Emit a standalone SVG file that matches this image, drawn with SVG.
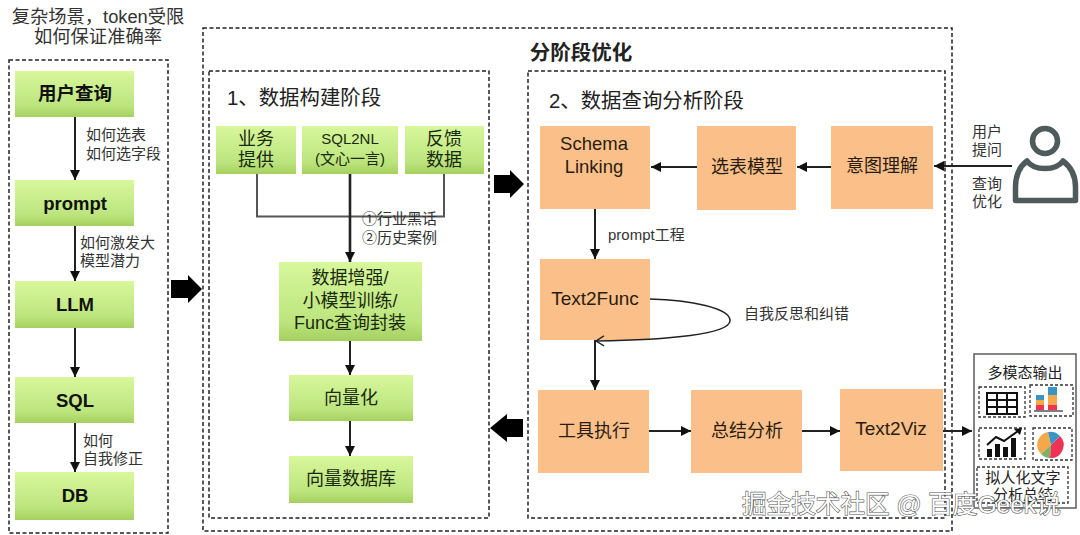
<svg xmlns="http://www.w3.org/2000/svg" width="1080" height="535" viewBox="0 0 1080 535">
<style>
text{font-family:"Liberation Sans","Noto Sans CJK SC",sans-serif;fill:#222;text-anchor:middle}
.dash{fill:none;stroke:#222;stroke-width:1.5;stroke-dasharray:4 2.5}
.green{fill:url(#g)}
.orange{fill:#fbc08a}
.l{fill:none;stroke:#222;stroke-width:2}
.g2{fill:none;stroke:#555;stroke-width:2}
.n{font-size:18px;fill:#1a2a10}
.b{font-size:18.5px;font-weight:bold;fill:#111}
.o{font-size:18px;fill:#2a1c10}
.s{font-size:15px;fill:#333}
.sl{font-size:15px;fill:#333;text-anchor:start}
.t{font-size:18.3px;fill:#333}
.h{font-size:20.4px;fill:#222;text-anchor:start}
.thick{fill:#000}
.wm{font-size:24.6px;fill:#fff;stroke:#555;stroke-width:1.2;paint-order:stroke;text-anchor:start}
</style>
<defs>
<linearGradient id="g" x1="0" y1="0" x2="0" y2="1"><stop offset="0" stop-color="#d8f79c"/><stop offset=".75" stop-color="#bce57e"/><stop offset="1" stop-color="#a5d05f"/></linearGradient>
<marker id="a" markerUnits="userSpaceOnUse" markerWidth="11" markerHeight="10" refX="10" refY="5" orient="auto"><path d="M0 0L10 5L0 10Z" fill="#111"/></marker>
<marker id="o" markerUnits="userSpaceOnUse" markerWidth="10" markerHeight="12" refX="9" refY="6" orient="auto"><path d="M1 1L9 6L1 11" fill="none" stroke="#222" stroke-width="1.3"/></marker>
</defs>

<g id="frames">
<rect class="dash" x="9" y="60" width="159" height="473"/>
<rect class="dash" x="203" y="28" width="749" height="503"/>
<rect class="dash" x="209" y="71" width="280" height="447"/>
<rect class="dash" x="528" y="71" width="417" height="447"/>
</g>
<g id="titles">
<text x="98" y="23" class="t">复杂场景，token受限</text>
<text x="98" y="43" class="t">如何保证准确率</text>
<text x="581" y="60" style="font-size:20.5px;font-weight:bold">分阶段优化</text>
<text x="227" y="105" class="h">1、数据构建阶段</text>
<text x="549" y="108" class="h">2、数据查询分析阶段</text>
</g>

<g id="n-query"><rect class="green" x="15" y="71" width="119" height="46"/><text class="b" x="75" y="100">用户查询</text></g>
<g id="n-prompt"><rect class="green" x="15" y="180" width="119" height="46"/><text class="b" x="75" y="210">prompt</text></g>
<g id="n-llm"><rect class="green" x="15" y="281" width="119" height="47"/><text class="b" x="75" y="311">LLM</text></g>
<g id="n-sql"><rect class="green" x="15" y="377" width="119" height="46"/><text class="b" x="75" y="407">SQL</text></g>
<g id="n-db"><rect class="green" x="15" y="472" width="119" height="48"/><text class="b" x="75" y="502">DB</text></g>

<g id="n-biz"><rect class="green" x="216" y="126" width="80" height="48"/><text class="n" x="256" y="145">业务</text><text class="n" x="256" y="166">提供</text></g>
<g id="n-sql2nl"><rect class="green" x="302" y="126" width="96" height="48"/><text class="s" x="350" y="144" style="fill:#1a2a10">SQL2NL</text><text class="s" x="350" y="164" style="fill:#1a2a10">(文心一言)</text></g>
<g id="n-feedback"><rect class="green" x="405" y="126" width="79" height="48"/><text class="n" x="444" y="145">反馈</text><text class="n" x="444" y="166">数据</text></g>
<g id="n-augment"><rect class="green" x="279" y="262" width="143" height="79"/><text class="n" x="350" y="284">数据增强/</text><text class="n" x="350" y="307">小模型训练/</text><text class="n" x="350" y="329">Func查询封装</text></g>
<g id="n-vector"><rect class="green" x="289" y="375" width="124" height="46"/><text class="n" x="351" y="404">向量化</text></g>
<g id="n-vdb"><rect class="green" x="289" y="456" width="124" height="47"/><text class="n" x="351" y="485">向量数据库</text></g>

<g id="n-schema"><rect class="orange" x="540" y="126" width="110" height="83"/><text class="o" x="594" y="150" style="font-size:18.500px">Schema</text><text class="o" x="594" y="173" style="font-size:18.500px">Linking</text></g>
<g id="n-table"><rect class="orange" x="697" y="126" width="99" height="84"/><text class="o" x="747" y="173">选表模型</text></g>
<g id="n-intent"><rect class="orange" x="831" y="126" width="102" height="83"/><text class="o" x="882" y="172">意图理解</text></g>
<g id="n-text2func"><rect class="orange" x="540" y="259" width="110" height="81"/><text class="o" x="595" y="305" style="font-size:19px">Text2Func</text></g>
<g id="n-tool"><rect class="orange" x="538" y="390" width="111" height="83"/><text class="o" x="594" y="437">工具执行</text></g>
<g id="n-summary"><rect class="orange" x="691" y="390" width="111" height="83"/><text class="o" x="747" y="437">总结分析</text></g>
<g id="n-text2viz"><rect class="orange" x="840" y="389" width="103" height="82"/><text class="o" x="891" y="435" style="font-size:19px">Text2Viz</text></g>

<g id="connectors">
<path class="l" d="M75 117V180" marker-end="url(#a)"/>
<path class="l" d="M75 226V281" marker-end="url(#a)"/>
<path class="l" d="M75 328V377" marker-end="url(#a)"/>
<path class="l" d="M75 423V472" marker-end="url(#a)"/>
<path class="g2" d="M257 174V216.500H444V174"/>
<path class="l" d="M350 174V262" style="stroke-width:2.6" marker-end="url(#a)"/>
<path class="l" d="M350 341V375" marker-end="url(#a)"/>
<path class="l" d="M350 421V456" marker-end="url(#a)"/>
<path class="l" d="M1012 166H934" marker-end="url(#a)"/>
<path class="l" d="M831 167H797" marker-end="url(#a)"/>
<path class="l" d="M697 167H651" marker-end="url(#a)"/>
<path class="l" d="M595 209V259" marker-end="url(#a)"/>
<path class="l" style="stroke-width:1.5" d="M650 299C690 300 731 308 730 321C729 334 670 340 596 341" marker-end="url(#o)"/>
<path class="l" d="M595 340V390" marker-end="url(#a)"/>
<path class="l" d="M649 431H691" marker-end="url(#a)"/>
<path class="l" d="M802 431H840" marker-end="url(#a)"/>
<path class="l" d="M943 431H972" marker-end="url(#a)"/>
<path class="thick" d="M171 280H188V275L202 289L188 303V298H171Z"/>
<path class="thick" d="M494 175H510V170L524 184L510 198V193H494Z"/>
<path class="thick" d="M523 419H507V414L490 428L507 442V437H523Z"/>
</g>

<g id="edge-labels">
<text x="86" y="140" class="sl">如何选表</text>
<text x="86" y="159" class="sl">如何选字段</text>
<text x="80" y="248" class="sl">如何激发大</text>
<text x="80" y="266" class="sl">模型潜力</text>
<text x="83" y="446" class="sl">如何</text>
<text x="83" y="464" class="sl">自我修正</text>
<text x="362" y="224" class="sl">①行业黑话</text>
<text x="362" y="243" class="sl">②历史案例</text>
<text x="608" y="240" class="sl">prompt工程</text>
<text x="744" y="319" class="sl">自我反思和纠错</text>
<text x="987" y="137" class="s">用户</text>
<text x="987" y="155" class="s">提问</text>
<text x="987" y="189" class="s">查询</text>
<text x="987" y="207" class="s">优化</text>
</g>

<g id="n-user" fill="none" stroke="#4f5a5c" stroke-width="5.500">
<circle cx="1045" cy="141" r="12.500"/>
<path d="M1027 161C1034 171 1056 171 1063 161C1071 167 1075.500 176 1075.500 187V200.500H1015.500V187C1015.500 176 1019 167 1027 161Z" stroke-linejoin="round"/>
</g>

<g id="n-output">
<rect x="974" y="354" width="102" height="154" fill="#fff" stroke="#666" stroke-width="1.600"/>
<text x="1025" y="378" class="s" style="fill:#222">多模态输出</text>
<g fill="none" stroke="#333" stroke-width="1.300" stroke-dasharray="3 2">
<rect x="979" y="387" width="46" height="30"/><rect x="1030" y="385" width="43" height="31"/>
<rect x="979" y="428" width="46" height="31"/><rect x="1033" y="428" width="39" height="32"/>
<rect x="977" y="467" width="91" height="36"/>
</g>
<path d="M987 393H1017V414H987ZM987 400H1017M987 407H1017M997 393V414M1007 393V414" fill="none" stroke="#111" stroke-width="2"/>
<path d="M1034 411H1063" stroke="#555" stroke-width="1.500"/>
<rect x="1036" y="395" width="8" height="5" fill="#3a94c6"/><rect x="1036" y="400" width="8" height="5" fill="#f5a84a"/><rect x="1036" y="405" width="8" height="5" fill="#ee3355"/>
<rect x="1048" y="387" width="9" height="8" fill="#3a94c6"/><rect x="1048" y="395" width="9" height="10" fill="#f5a84a"/><rect x="1048" y="405" width="9" height="5" fill="#ee3355"/>
<path d="M987 457V449H992V457ZM995 457V444H1000V457ZM1003 457V447H1008V457ZM1011 457V438H1016V457Z" fill="#111"/>
<path d="M987 445L996 437L1004 441L1018 431" fill="none" stroke="#111" stroke-width="2"/><path d="M1014 429L1022 428L1020 435Z" fill="#111"/>
<path d="M1051 445L1048 432A13 13 0 0 0 1041 454Z" fill="#f5a84a"/><path d="M1051 445L1041 454A13 13 0 0 0 1050 458Z" fill="#7fb069"/><path d="M1051 445L1050 458A13 13 0 0 0 1060 436Z" fill="#ee3355"/><path d="M1051 445L1060 436A13 13 0 0 0 1048 432Z" fill="#3a94c6"/>
<text x="1023" y="483" class="s" style="fill:#222">拟人化文字</text>
<text x="1023" y="500" class="s" style="fill:#222">分析总结</text>
</g>

<text class="wm" x="742" y="513">掘金技术社区 @ 百度Geek说</text>
</svg>
